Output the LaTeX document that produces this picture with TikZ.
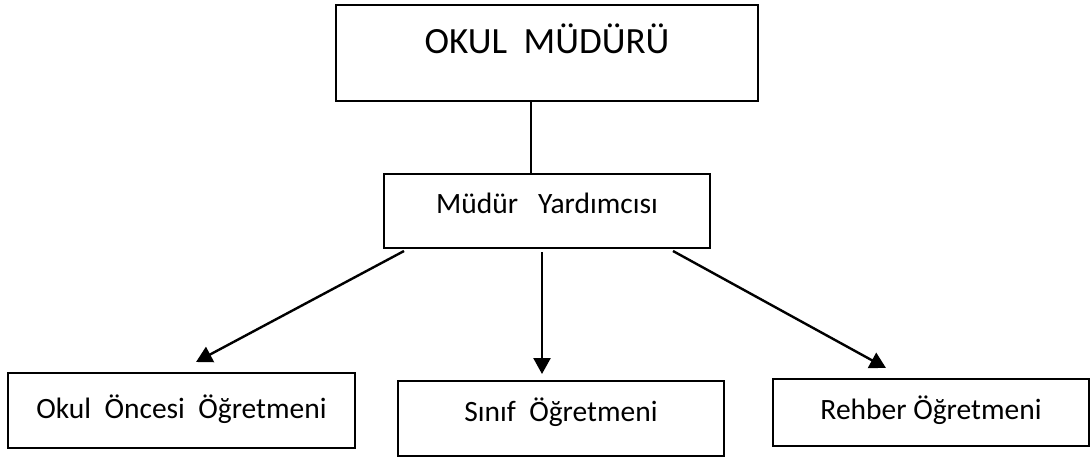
\documentclass[tikz,border=0pt]{standalone}
\usepackage{fontspec}
\setmainfont{Carlito}
\usetikzlibrary{arrows.meta}
\begin{document}
\begin{tikzpicture}[x=1pt,y=-1pt,
  box/.style={draw=black,line width=2pt,inner sep=0pt,anchor=north west,align=center},
  link/.style={line width=2.4pt},
  arr/.style={line width=2.4pt,-{Triangle[length=16pt,width=17pt]}}]
\useasboundingbox[fill=white] (0,0) rectangle (1090,456);
\node[box,minimum width=422pt,text height=48pt,text depth=48pt,font=\fontsize{37}{40}\selectfont] (top) at (335,4) {OKUL\ \ MÜDÜRÜ};
\node[box,minimum width=326pt,text height=39pt,text depth=35pt,font=\fontsize{29.5}{33}\selectfont] (mid) at (383,173) {Müdür\ \ \ Yardımcısı};
\node[box,minimum width=347pt,text height=45pt,text depth=30pt,font=\fontsize{29.5}{33}\selectfont] (bl) at (7,372) {Okul\ \ Öncesi\ \ Öğretmeni};
\node[box,minimum width=326pt,text height=40pt,text depth=35pt,font=\fontsize{29.5}{33}\selectfont] (bm) at (397,380) {Sınıf\ \ Öğretmeni};
\node[box,minimum width=316pt,text height=40pt,text depth=27pt,font=\fontsize{29.5}{33}\selectfont] (br) at (772,378) {Rehber Öğretmeni};
\draw[link] ([xshift=-16pt]top.south) -- ([xshift=-16pt]mid.north);
\draw[arr] ([xshift=-143pt,yshift=-2pt]mid.south) -- ([xshift=14.5pt,yshift=10pt]bl.north);
\draw[arr] ([xshift=-5pt,yshift=-3pt]mid.south) -- ([xshift=-19pt,yshift=6pt]bm.north);
\draw[arr] ([xshift=126pt,yshift=-2pt]mid.south) -- ([xshift=-45pt,yshift=10pt]br.north);
\end{tikzpicture}
\end{document}
